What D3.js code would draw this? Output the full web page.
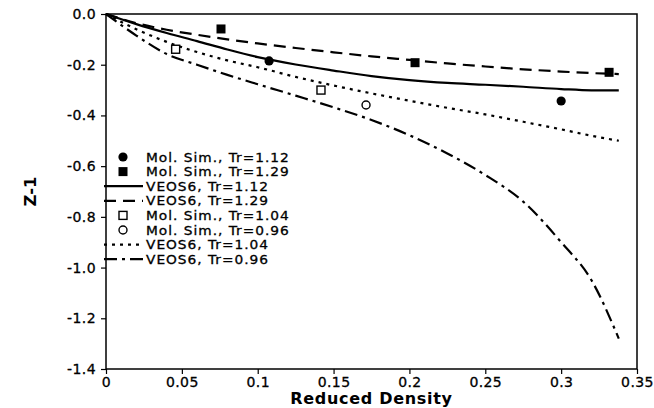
<!DOCTYPE html>
<html><head><meta charset="utf-8">
<script src="https://cdn.jsdelivr.net/npm/d3@7"></script>
<style>body{margin:0;background:#fff}svg{display:block}text{font-family:"DejaVu Sans",Verdana,sans-serif}</style>
</head><body><svg id="c" width="654" height="408"></svg>
<script>
const xTicks=[0,0.05,0.1,0.15,0.2,0.25,0.3,0.35];
const xTickLabels=["0","0.05","0.1","0.15","0.2","0.25","0.3","0.35"];
const yTicks=[0,-0.2,-0.4,-0.6,-0.8,-1.0,-1.2,-1.4];
const yTickLabels=["0.0","-0.2","-0.4","-0.6","-0.8","-1.0","-1.2","-1.4"];
// molecular simulation points
const simTr112X=[0.1075,0.300];
const simTr112Y=[-0.185,-0.343];
const simTr129X=[0.0758,0.2037,0.3316];
const simTr129Y=[-0.059,-0.192,-0.230];
const simTr104X=[0.0459,0.1417];
const simTr104Y=[-0.139,-0.300];
const simTr096X=[0.1714];
const simTr096Y=[-0.359];
// VEOS6 curves
const veosX=[0,0.02,0.04,0.06,0.08,0.1,0.125,0.15,0.175,0.2,0.225,0.25,0.275,0.3,0.32,0.338];
const veos112=[0,-0.04,-0.075,-0.107,-0.14,-0.17,-0.199,-0.223,-0.245,-0.261,-0.272,-0.279,-0.287,-0.296,-0.301,-0.301];
const veos129=[0,-0.036,-0.062,-0.082,-0.1,-0.116,-0.134,-0.151,-0.167,-0.181,-0.195,-0.207,-0.218,-0.227,-0.233,-0.237];
const veos104=[0,-0.06,-0.11,-0.15,-0.183,-0.21,-0.248,-0.282,-0.313,-0.342,-0.37,-0.396,-0.425,-0.455,-0.48,-0.5];
const veos096=[0,-0.085,-0.158,-0.2,-0.24,-0.277,-0.322,-0.368,-0.418,-0.478,-0.55,-0.635,-0.74,-0.9,-1.05,-1.28];
const legendLabels=["Mol. Sim., Tr=1.12","Mol. Sim., Tr=1.29","VEOS6, Tr=1.12","VEOS6, Tr=1.29","Mol. Sim., Tr=1.04","Mol. Sim., Tr=0.96","VEOS6, Tr=1.04","VEOS6, Tr=0.96"];

const svg=d3.select("#c");
const L=106,R=637,T=14,B=369;
const x=d3.scaleLinear().domain([0,0.35]).range([L,R]);
const y=d3.scaleLinear().domain([-1.4,0]).range([B,T]);

const styles={
  solid:{dash:null},
  dash:{dash:"12,7"},
  dot:{dash:"3,5"},
  dashdot:{dash:"13,5,3,5"}
};
const lw=2.2;
function drawLine(ys,st){
  const line=d3.line().x((d,i)=>x(veosX[i])).y(d=>y(d)).curve(d3.curveMonotoneX);
  svg.append("path").attr("d",line(ys)).attr("fill","none").attr("stroke","#000")
    .attr("stroke-width",lw).attr("stroke-dasharray",styles[st].dash);
}
drawLine(veos129,"dash");
drawLine(veos112,"solid");
drawLine(veos104,"dot");
drawLine(veos096,"dashdot");

function marker(g,type,cx,cy){
  if(type==="fcirc") g.append("circle").attr("cx",cx).attr("cy",cy).attr("r",4.6).attr("fill","#000");
  if(type==="fsq") g.append("rect").attr("x",cx-4.5).attr("y",cy-4.5).attr("width",9).attr("height",9).attr("fill","#000");
  if(type==="osq") g.append("rect").attr("x",cx-4).attr("y",cy-4).attr("width",8).attr("height",8).attr("fill","#fff").attr("stroke","#000").attr("stroke-width",1.4);
  if(type==="ocirc") g.append("circle").attr("cx",cx).attr("cy",cy).attr("r",4).attr("fill","#fff").attr("stroke","#000").attr("stroke-width",1.4);
}
simTr112X.forEach((v,i)=>marker(svg,"fcirc",x(v),y(simTr112Y[i])));
simTr129X.forEach((v,i)=>marker(svg,"fsq",x(v),y(simTr129Y[i])));
simTr104X.forEach((v,i)=>marker(svg,"osq",x(v),y(simTr104Y[i])));
simTr096X.forEach((v,i)=>marker(svg,"ocirc",x(v),y(simTr096Y[i])));

// frame
svg.append("rect").attr("x",L).attr("y",T).attr("width",R-L).attr("height",B-T).attr("fill","none").attr("stroke","#000").attr("stroke-width",1.5);

const xa=svg.append("g").attr("transform",`translate(0,${B})`)
  .call(d3.axisBottom(x).tickValues(xTicks).tickFormat((d,i)=>xTickLabels[i]).tickSize(5).tickPadding(3));
const ya=svg.append("g").attr("transform",`translate(${L},0)`)
  .call(d3.axisLeft(y).tickValues(yTicks).tickFormat((d,i)=>yTickLabels[i]).tickSize(5).tickPadding(5));
[xa,ya].forEach(a=>{a.select(".domain").remove();a.selectAll("line").attr("stroke","#000").attr("stroke-width",1.2);
  a.selectAll("text").attr("font-size",14).attr("letter-spacing",0.4).attr("fill","#000").attr("stroke","#000").attr("stroke-width",0.3).attr("font-family","'DejaVu Sans',Verdana,sans-serif");});

svg.append("text").attr("x",(L+R)/2).attr("y",404).attr("text-anchor","middle").attr("font-size",16).attr("letter-spacing",0.7).attr("font-weight","bold").text("Reduced Density");
svg.append("text").attr("transform",`translate(36,${(T+B)/2}) rotate(-90)`).attr("text-anchor","middle").attr("font-size",16.5).attr("font-weight","bold").text("Z-1");

// legend
const legTypes=[["m","fcirc"],["m","fsq"],["l","solid"],["l","dash"],["m","osq"],["m","ocirc"],["l","dot"],["l","dashdot"]];
const lg=svg.append("g");
legendLabels.forEach((t,i)=>{
  const cy=157+i*14.6;
  const [k,s]=legTypes[i];
  if(k==="m") marker(lg,s,123,cy);
  else lg.append("line").attr("x1",104).attr("x2",143).attr("y1",cy).attr("y2",cy).attr("stroke","#000").attr("stroke-width",lw).attr("stroke-dasharray",styles[s].dash);
  lg.append("text").attr("transform",`translate(146,${cy}) scale(1.1,1)`).attr("dy","0.36em").attr("font-size",12.5).attr("letter-spacing",0.9).attr("fill","#000").attr("stroke","#000").attr("stroke-width",0.3).text(t);
});
</script></body></html>
